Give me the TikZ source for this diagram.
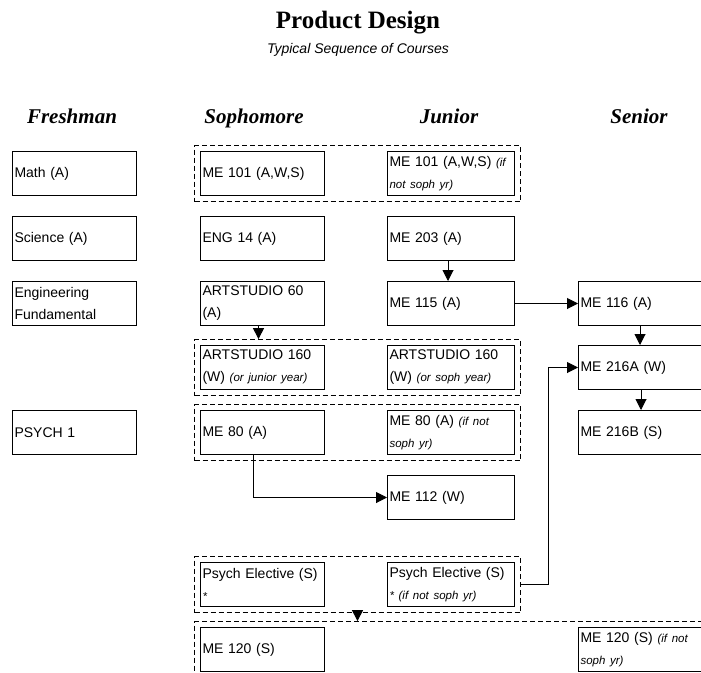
\documentclass[tikz,border=0pt]{standalone}
\usepackage{fontspec}
\setmainfont{Liberation Serif}
\newfontfamily\sansf{Liberation Sans}
\usetikzlibrary{arrows.meta,fit,calc}
\newcommand\boxfont{\sansf\fontsize{14}{22}\selectfont}
\newcommand\nt[1]{{\fontsize{11.5}{22}\selectfont\itshape #1}}
\begin{document}
\begin{tikzpicture}[x=1pt,y=-1pt,
 box/.style={draw, line width=1pt, rectangle, anchor=north west, minimum height=44pt, inner xsep=2pt, inner ysep=0pt, align=left, font=\boxfont},
 cw/.style={box, text width=120pt, minimum width=124pt},
 jw/.style={box, text width=123pt, minimum width=127pt},
 sw/.style={box, text width=140pt, minimum width=144pt},
 group/.style={draw, dash pattern=on 5pt off 3pt, line width=0.8pt, inner sep=5.5pt},
 arr/.style={line width=1pt, -{Triangle[length=11pt,width=11pt]}},
 hdr/.style={anchor=base, font=\fontsize{21}{24}\selectfont\bfseries\itshape}]
\useasboundingbox (0,0) rectangle (701,672);
\clip (0,0) rectangle (701,672);

\node[anchor=base, font=\fontsize{25}{28}\selectfont\bfseries] (title) at (358,28) {Product Design};
\node[anchor=base, font=\sansf\itshape\fontsize{14}{16}\selectfont] (sub) at (358,53) {Typical Sequence of Courses};

\node[hdr] (h1) at (72,123) {Freshman};
\node[hdr] (h2) at (254,123) {Sophomore};
\node[hdr] (h3) at (449,123) {Junior};
\node[hdr] (h4) at (639,123) {Senior};

\node[cw] (math) at (12,151) {Math (A)};
\node[cw] (mes101) at (200,151) {ME 101 (A,W,S)};
\node[jw] (mej101) at (387,151) {ME 101 (A,W,S) \nt{(if}\\\nt{not soph yr)}};
\node[cw] (sci) at (12,216) {Science (A)};
\node[cw] (eng14) at (200,216) {ENG 14 (A)};
\node[jw] (me203) at (387,216) {ME 203 (A)};
\node[cw] (engf) at (12,281) {Engineering\\Fundamental};
\node[cw] (art60) at (200,281) {ARTSTUDIO 60\\(A)};
\node[jw] (me115) at (387,281) {ME 115 (A)};
\node[sw] (me116) at (578,281) {ME 116 (A)};
\node[cw] (art160s) at (200,345) {ARTSTUDIO 160\\(W) \nt{(or junior year)}};
\node[jw] (art160j) at (387,345) {ARTSTUDIO 160\\(W) \nt{(or soph year)}};
\node[sw] (me216a) at (578,345) {ME 216A (W)};
\node[cw] (psych1) at (12,410) {PSYCH 1};
\node[cw] (me80s) at (200,410) {ME 80 (A)};
\node[jw] (me80j) at (387,410) {ME 80 (A) \nt{(if not}\\\nt{soph yr)}};
\node[sw] (me216b) at (578,410) {ME 216B (S)};
\node[jw] (me112) at (387,475) {ME 112 (W)};
\node[cw] (pes) at (200,562) {Psych Elective (S)\\{}\nt{*}};
\node[jw] (pej) at (387,562) {Psych Elective (S)\\{}\nt{* (if not soph yr)}};
\node[cw] (me120s) at (200,627) {ME 120 (S)};
\node[sw] (me120r) at (578,627) {ME 120 (S) \nt{(if not}\\\nt{soph yr)}};

\node[group, fit=(mes101)(mej101)] (g1) {};
\node[group, fit=(art160s)(art160j)] (g2) {};
\node[group, fit=(me80s)(me80j)] (g3) {};
\node[group, fit=(pes)(pej)] (g4) {};
\node[group, fit=(me120s)(me120r)] (g5) {};

\draw[arr] ([xshift=-4pt]art60.south) -- ([xshift=-4pt]art60.south |- g2.north);
\draw[arr] ([xshift=-3pt]me203.south) -- ([xshift=-3pt]me115.north);
\draw[arr] (me115.east) -- (me116.west);
\draw[arr] ([xshift=62pt]me116.south west) -- ([xshift=62pt]me216a.north west);
\draw[arr] ([xshift=63pt]me216a.south west) -- ([xshift=63pt]me216b.north west);
\draw[arr] ([xshift=-9pt]me80s.south) |- (me112.west);
\draw[arr] (g4.east |- pej.east) -| ([xshift=-30pt]me216a.west) -- (me216a.west);
\draw[arr] (g4.south) -- (g4.south |- g5.north);
\end{tikzpicture}
\end{document}
